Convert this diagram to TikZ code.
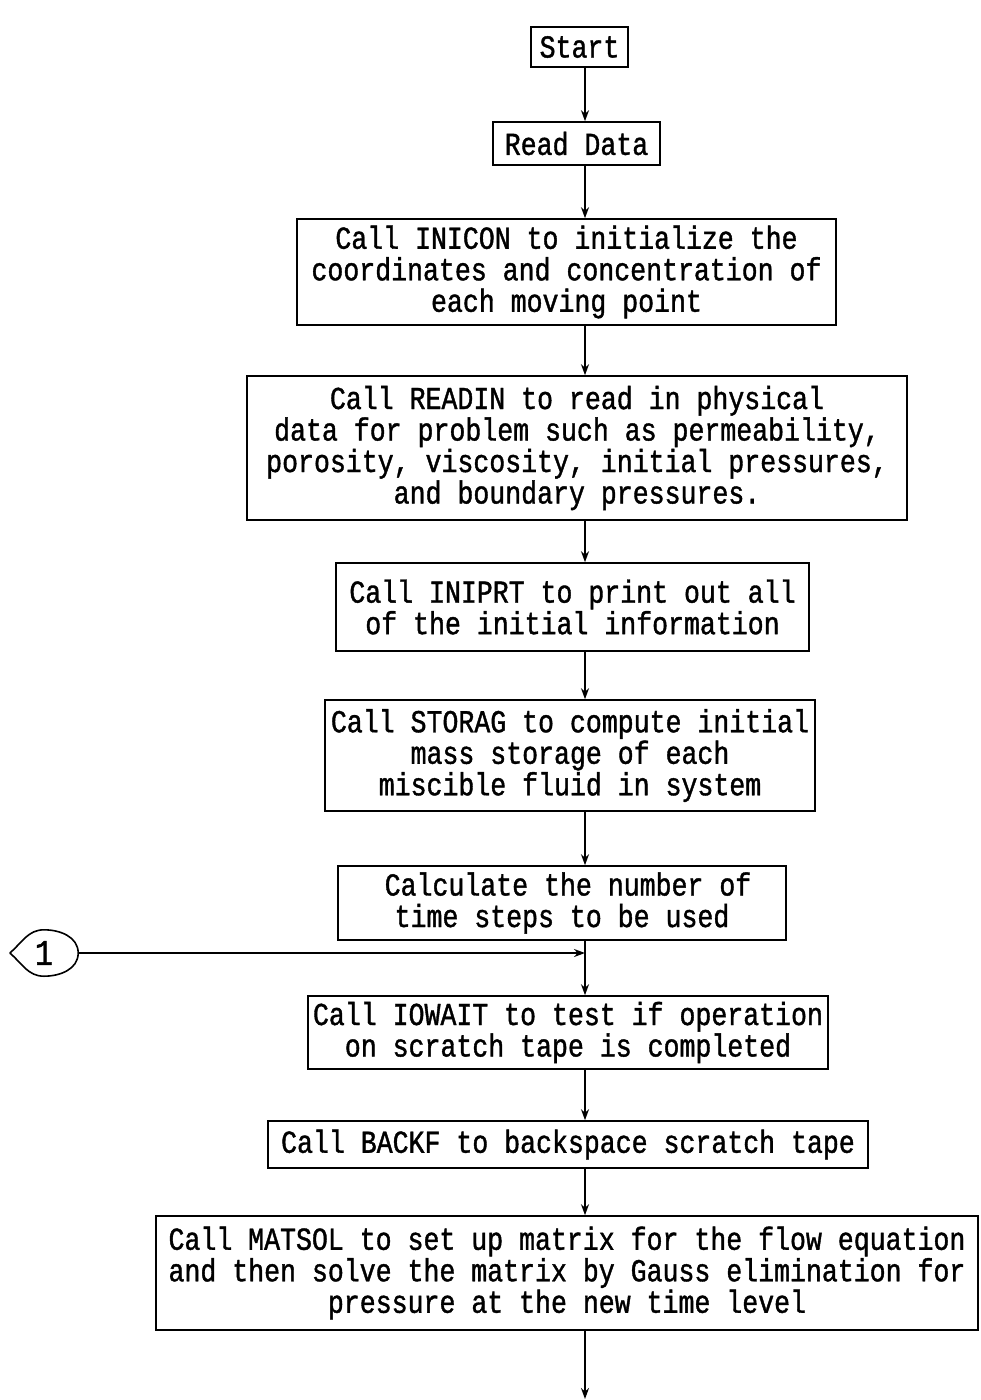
\documentclass[tikz,border=0pt]{standalone}
\usepackage{fontspec}
\newfontfamily\typewriter[FakeStretch=0.83,FakeBold=1.2]{Liberation Mono}
\usetikzlibrary{arrows.meta}

\begin{document}
\begin{tikzpicture}[x=1pt,y=-1pt,
  box/.style={draw,line width=1.6pt,align=center,inner sep=0pt,
    font=\typewriter\fontsize{32}{31.5}\selectfont},
  arr/.style={-{Stealth[length=11pt,width=8pt]},line width=1.6pt}]
\useasboundingbox (0,0) rectangle (980,1400);
\coordinate (spine) at (585,0);
\node[box,minimum width=97,minimum height=40] (start) at (579.5,47) {Start};
\node[box,minimum width=167,minimum height=43] (read) at (576.5,143.5) {Read Data};
\node[box,minimum width=539,minimum height=106] (inicon) at (566.5,272)
  {Call INICON to initialize the\\ coordinates and concentration of\\ each moving point};
\node[box,minimum width=660,minimum height=144] (readin) at (577,448)
  {Call READIN to read in physical\\ data for problem such as permeability,\\
   porosity, viscosity, initial pressures,\\ and boundary pressures.};
\node[box,minimum width=473,minimum height=88] (iniprt) at (572.5,607)
  {Call INIPRT to print out all\\ of the initial information};
\node[box,minimum width=490,minimum height=111] (storag) at (570,755.5)
  {Call STORAG to compute initial\\ mass storage of each\\ miscible fluid in system};
\node[box,minimum width=448,minimum height=74] (calc) at (562,903)
  {\hspace*{12pt}Calculate the number of\\ time steps to be used};
\node[box,minimum width=520,minimum height=73] (iowait) at (568,1032.5)
  {Call IOWAIT to test if operation\\ on scratch tape is completed};
\node[box,minimum width=600,minimum height=47] (backf) at (568,1144.5)
  {Call BACKF to backspace scratch tape};
\node[box,minimum width=822,minimum height=114] (matsol) at (567,1273)
  {Call MATSOL to set up matrix for the flow equation\\
   and then solve the matrix by Gauss elimination for\\ pressure at the new time level};
\node[font=\typewriter\fontsize{36}{36}\selectfont,inner sep=0pt,
  minimum width=68,minimum height=46] (conn) at (44,953) {1};
\coordinate (end) at (590,1399);
% off-page connector
\draw[line width=1.6pt] (conn.west) to[out=40,in=180] (conn.north)
  to[out=0,in=90] (conn.east) to[out=-90,in=0] (conn.south)
  to[out=180,in=-40] (conn.west);
\draw[arr] (start.south -| spine) -- (read.north -| spine);
\draw[arr] (read.south -| spine) -- (inicon.north -| spine);
\draw[arr] (inicon.south -| spine) -- (readin.north -| spine);
\draw[arr] (readin.south -| spine) -- (iniprt.north -| spine);
\draw[arr] (iniprt.south -| spine) -- (storag.north -| spine);
\draw[arr] (storag.south -| spine) -- (calc.north -| spine);
\draw[arr] (calc.south -| spine) -- (iowait.north -| spine);
\draw[arr] (iowait.south -| spine) -- (backf.north -| spine);
\draw[arr] (backf.south -| spine) -- (matsol.north -| spine);
\draw[arr] (matsol.south -| spine) -- (end -| spine);
\draw[arr] (conn.east) -- (conn.east -| spine);
\end{tikzpicture}
\end{document}
